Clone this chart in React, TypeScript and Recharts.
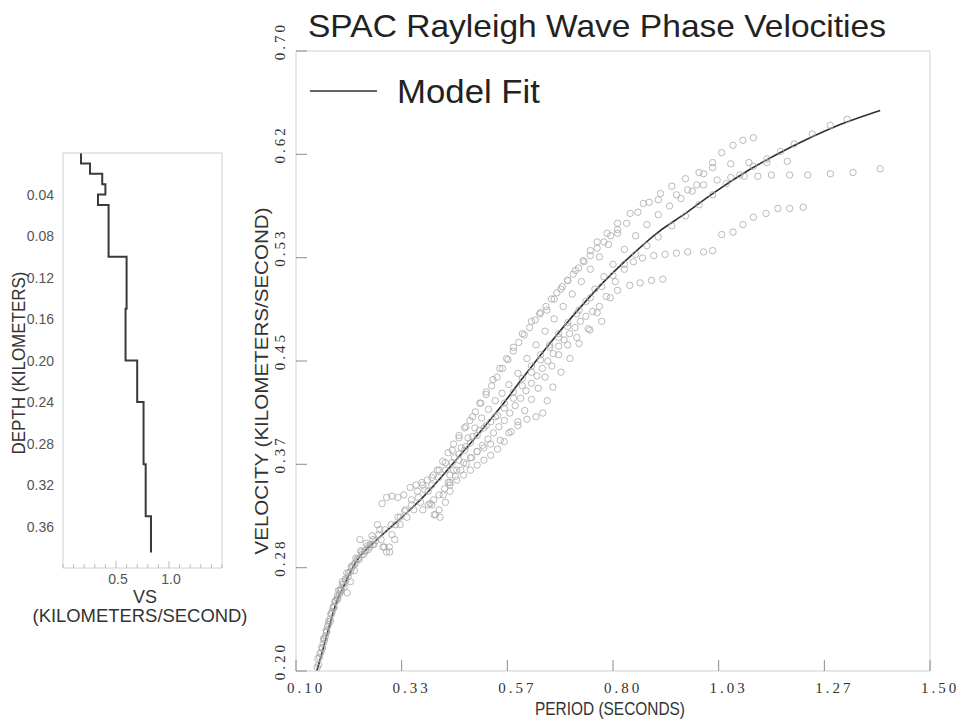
import { ComposedChart, Line, Scatter, XAxis, YAxis } from 'recharts';

// ---- main chart: period / velocity ----
const periodTicks = [0.1, 0.3333, 0.5667, 0.8, 1.0333, 1.2667, 1.5];
const periodTickLabels = ['0.10', '0.33', '0.57', '0.80', '1.03', '1.27', '1.50'];
const velocityTicks = [0.2, 0.2833, 0.3667, 0.45, 0.5333, 0.6167, 0.7];
const velocityTickLabels = ['0.20', '0.28', '0.37', '0.45', '0.53', '0.62', '0.70'];

const fitPeriod = [
  0.146, 0.16, 0.175, 0.19, 0.205, 0.22, 0.24, 0.27, 0.3, 0.34, 0.38, 0.42, 0.46, 0.5, 0.55,
  0.6, 0.66, 0.72, 0.78, 0.84, 0.9, 0.96, 1.02, 1.1, 1.19, 1.29, 1.39,
];
const fitVelocity = [
  0.2, 0.218, 0.238, 0.256, 0.268, 0.28, 0.292, 0.303, 0.313, 0.326, 0.34, 0.356, 0.373, 0.39,
  0.412, 0.436, 0.464, 0.49, 0.514, 0.535, 0.554, 0.569, 0.585, 0.604, 0.622, 0.639, 0.652,
];

type Pt = [number, number];

const trackA: Pt[] = [
  [0.15, 0.205], [0.158, 0.218], [0.165, 0.228], [0.172, 0.238], [0.18, 0.248], [0.188, 0.257],
  [0.196, 0.262], [0.205, 0.27], [0.215, 0.276], [0.225, 0.285], [0.235, 0.29], [0.245, 0.296],
  [0.258, 0.301], [0.27, 0.306], [0.283, 0.31], [0.296, 0.314], [0.31, 0.318], [0.325, 0.324],
  [0.34, 0.329], [0.355, 0.334], [0.37, 0.34], [0.385, 0.346], [0.4, 0.35], [0.415, 0.356],
  [0.43, 0.362], [0.445, 0.368], [0.46, 0.375], [0.475, 0.381], [0.49, 0.389], [0.505, 0.394],
  [0.52, 0.398], [0.54, 0.405], [0.56, 0.416], [0.58, 0.425], [0.6, 0.436], [0.62, 0.446],
  [0.64, 0.455], [0.66, 0.463], [0.68, 0.472], [0.7, 0.481], [0.725, 0.491], [0.75, 0.501],
  [0.775, 0.51], [0.8, 0.519], [0.825, 0.528], [0.85, 0.536], [0.875, 0.543], [0.9, 0.55],
  [0.93, 0.559], [0.96, 0.567], [0.99, 0.576], [1.02, 0.584], [1.05, 0.593], [1.08, 0.6],
  [1.11, 0.607], [1.14, 0.613], [1.17, 0.619], [1.2, 0.625], [1.24, 0.633], [1.28, 0.64],
  [1.317, 0.645],
];

const trackB: Pt[] = [
  [0.155, 0.215], [0.163, 0.225], [0.17, 0.236], [0.178, 0.246], [0.186, 0.256], [0.194, 0.265],
  [0.202, 0.272], [0.212, 0.279], [0.222, 0.284], [0.232, 0.291], [0.243, 0.297], [0.255, 0.303],
  [0.268, 0.309], [0.28, 0.318], [0.29, 0.335], [0.3, 0.34], [0.312, 0.341], [0.325, 0.34],
  [0.338, 0.342], [0.352, 0.348], [0.365, 0.35], [0.378, 0.352], [0.39, 0.354], [0.403, 0.358],
  [0.416, 0.362], [0.43, 0.368], [0.445, 0.378], [0.46, 0.388], [0.475, 0.397], [0.49, 0.405],
  [0.506, 0.416], [0.52, 0.425], [0.535, 0.435], [0.55, 0.444], [0.565, 0.452], [0.58, 0.461],
  [0.6, 0.472], [0.62, 0.482], [0.638, 0.488], [0.654, 0.491], [0.67, 0.5], [0.685, 0.508],
  [0.7, 0.515], [0.717, 0.523], [0.734, 0.531], [0.75, 0.539], [0.765, 0.546], [0.787, 0.553],
  [0.81, 0.561], [0.838, 0.569], [0.867, 0.577], [0.9, 0.58], [0.94, 0.584], [0.965, 0.588],
  [0.985, 0.592], [1.0, 0.601], [1.02, 0.61], [1.04, 0.618], [1.065, 0.624], [1.087, 0.628],
  [1.11, 0.63],
];

const trackC: Pt[] = [
  [0.16, 0.222], [0.168, 0.232], [0.176, 0.24], [0.184, 0.251], [0.192, 0.258], [0.2, 0.266],
  [0.21, 0.273], [0.22, 0.28], [0.23, 0.286], [0.24, 0.29], [0.252, 0.297], [0.264, 0.302],
  [0.276, 0.305], [0.288, 0.306], [0.295, 0.3], [0.3, 0.296], [0.306, 0.3], [0.312, 0.31],
  [0.32, 0.318], [0.33, 0.324], [0.342, 0.33], [0.355, 0.338], [0.368, 0.345], [0.38, 0.35],
  [0.392, 0.345], [0.4, 0.334], [0.408, 0.326], [0.416, 0.33], [0.425, 0.342], [0.436, 0.352],
  [0.448, 0.362], [0.46, 0.37], [0.472, 0.378], [0.485, 0.384], [0.5, 0.39], [0.515, 0.396],
  [0.53, 0.401], [0.545, 0.406], [0.56, 0.412], [0.58, 0.42], [0.6, 0.43], [0.62, 0.441],
  [0.64, 0.451], [0.66, 0.461], [0.68, 0.469], [0.7, 0.478], [0.72, 0.488], [0.74, 0.498],
  [0.76, 0.508], [0.78, 0.518], [0.8, 0.528], [0.825, 0.54], [0.85, 0.551], [0.875, 0.56],
  [0.9, 0.568], [0.925, 0.575], [0.95, 0.581], [0.975, 0.587], [1.0, 0.592], [1.03, 0.596],
  [1.06, 0.598], [1.09, 0.599], [1.12, 0.599], [1.15, 0.6], [1.19, 0.6], [1.23, 0.6],
  [1.28, 0.601], [1.33, 0.602], [1.39, 0.605],
];

const trackD: Pt[] = [
  [0.45, 0.372], [0.465, 0.38], [0.48, 0.388], [0.495, 0.396], [0.51, 0.404], [0.525, 0.411],
  [0.54, 0.418], [0.555, 0.424], [0.57, 0.431], [0.59, 0.44], [0.61, 0.452], [0.63, 0.463],
  [0.65, 0.474], [0.67, 0.484], [0.69, 0.494], [0.71, 0.504], [0.73, 0.514], [0.75, 0.524],
  [0.77, 0.534], [0.79, 0.544], [0.81, 0.553], [0.83, 0.561], [0.855, 0.57], [0.88, 0.578],
  [0.905, 0.585], [0.93, 0.591], [0.96, 0.597], [0.99, 0.602], [1.02, 0.606], [1.06, 0.609],
  [1.1, 0.61], [1.14, 0.61], [1.185, 0.611],
];

const trackE: Pt[] = [
  [0.44, 0.358], [0.455, 0.362], [0.47, 0.368], [0.485, 0.372], [0.5, 0.377], [0.515, 0.38],
  [0.53, 0.383], [0.551, 0.386], [0.57, 0.392], [0.59, 0.398], [0.61, 0.403], [0.63, 0.405],
  [0.645, 0.408], [0.655, 0.418], [0.667, 0.429], [0.685, 0.441], [0.705, 0.452], [0.725, 0.464],
  [0.745, 0.476], [0.765, 0.489], [0.785, 0.502], [0.805, 0.514], [0.825, 0.524], [0.845, 0.53],
  [0.865, 0.533], [0.89, 0.535], [0.915, 0.536], [0.94, 0.537], [0.965, 0.538], [1.0, 0.538],
  [1.02, 0.539], [1.04, 0.552], [1.065, 0.554], [1.087, 0.56], [1.11, 0.566], [1.138, 0.569],
  [1.164, 0.573], [1.19, 0.573], [1.22, 0.574],
];

const trackF: Pt[] = [
  [0.44, 0.35], [0.455, 0.354], [0.47, 0.358], [0.485, 0.362], [0.5, 0.366], [0.515, 0.37],
  [0.53, 0.374], [0.545, 0.379], [0.56, 0.385], [0.575, 0.393], [0.59, 0.401], [0.605, 0.41],
  [0.62, 0.419], [0.635, 0.428], [0.65, 0.437], [0.665, 0.446], [0.68, 0.455], [0.7, 0.463],
  [0.72, 0.469], [0.749, 0.475], [0.775, 0.482], [0.794, 0.501], [0.81, 0.507], [0.837, 0.511],
  [0.86, 0.513], [0.885, 0.515], [0.91, 0.516],
];

const trackG: Pt[] = [
  [0.148, 0.21], [0.153, 0.214], [0.161, 0.226], [0.167, 0.231], [0.175, 0.242], [0.183, 0.252],
  [0.191, 0.259], [0.199, 0.264], [0.207, 0.268], [0.213, 0.263], [0.22, 0.272], [0.229, 0.281],
  [0.241, 0.306], [0.25, 0.294], [0.26, 0.298], [0.272, 0.302], [0.285, 0.314], [0.292, 0.3],
  [0.307, 0.296], [0.318, 0.306], [0.33, 0.318], [0.345, 0.324], [0.36, 0.33], [0.375, 0.336],
  [0.396, 0.335], [0.405, 0.326], [0.418, 0.324], [0.43, 0.336], [0.44, 0.345],
];

const trackH: Pt[] = [
  [0.4, 0.356], [0.412, 0.362], [0.424, 0.369], [0.436, 0.376], [0.448, 0.383], [0.46, 0.39],
  [0.472, 0.396], [0.484, 0.402], [0.496, 0.409], [0.508, 0.416], [0.52, 0.423], [0.532, 0.43],
  [0.544, 0.437], [0.556, 0.444], [0.568, 0.451], [0.58, 0.458], [0.592, 0.465], [0.604, 0.471],
  [0.616, 0.477], [0.628, 0.483], [0.64, 0.489], [0.652, 0.494], [0.664, 0.5], [0.676, 0.505],
  [0.688, 0.51], [0.7, 0.515], [0.712, 0.52], [0.724, 0.525], [0.736, 0.53], [0.75, 0.535],
  [0.765, 0.541], [0.78, 0.546], [0.795, 0.551], [0.81, 0.556],
];

const trackI: Pt[] = [
  [0.38, 0.33], [0.392, 0.334], [0.404, 0.338], [0.416, 0.342], [0.428, 0.347], [0.44, 0.352],
  [0.452, 0.357], [0.464, 0.362], [0.476, 0.367], [0.488, 0.372], [0.5, 0.377], [0.512, 0.382],
  [0.524, 0.387], [0.536, 0.392], [0.548, 0.397], [0.56, 0.402], [0.572, 0.408], [0.584, 0.414],
  [0.596, 0.42], [0.608, 0.426], [0.62, 0.432], [0.632, 0.438], [0.644, 0.444], [0.656, 0.45],
  [0.668, 0.456], [0.68, 0.462], [0.692, 0.467], [0.704, 0.472], [0.716, 0.477], [0.728, 0.482],
  [0.74, 0.486], [0.755, 0.49], [0.77, 0.494],
];

const trackJ: Pt[] = [
  [0.147, 0.203], [0.152, 0.211], [0.157, 0.219], [0.162, 0.226], [0.167, 0.233], [0.172, 0.24],
  [0.177, 0.246], [0.182, 0.251], [0.187, 0.256], [0.192, 0.261], [0.197, 0.265], [0.203, 0.27],
  [0.209, 0.274], [0.216, 0.279], [0.223, 0.283], [0.23, 0.287], [0.238, 0.291], [0.246, 0.294],
  [0.254, 0.297], [0.262, 0.3], [0.27, 0.302],
];

const tracks = [trackA, trackB, trackC, trackD, trackE, trackF, trackG, trackH, trackI, trackJ];

// ---- side chart: shear velocity profile ----
const layerTop = [0, 0.01, 0.02, 0.03, 0.04, 0.05, 0.1, 0.15, 0.2, 0.24, 0.3, 0.35];
const layerVs = [0.17, 0.255, 0.37, 0.4, 0.33, 0.43, 0.6, 0.59, 0.7, 0.76, 0.78, 0.83];
const profileBottom = 0.385;
const depthTicks = [0.04, 0.08, 0.12, 0.16, 0.2, 0.24, 0.28, 0.32, 0.36];
const depthTickLabels = ['0.04', '0.08', '0.12', '0.16', '0.20', '0.24', '0.28', '0.32', '0.36'];
const vsTicks = [0, 0.1, 0.2, 0.3, 0.4, 0.5, 0.6, 0.7, 0.8, 0.9, 1.0, 1.1, 1.2, 1.3, 1.4, 1.5];
const vsLabeled = [0.5, 1.0];
const vsTickLabels = ['0.5', '1.0'];

const fitData = fitPeriod.map((period, i) => ({ period, vel: fitVelocity[i] }));
const profileData = layerVs.flatMap((vs, i) => [
  { vs, depth: layerTop[i] },
  { vs, depth: i + 1 < layerTop.length ? layerTop[i + 1] : profileBottom },
]);

const MAIN = { left: 296, right: 930, top: 51, bottom: 671 };
const SIDE = { left: 63, right: 222, top: 153, bottom: 568 };
const BOX = '#cfcfcf';
const TICKC = '#8c8c8c';
const SERIF = 'Liberation Serif, serif';
const SANS = 'Liberation Sans, Arial, sans-serif';

const VelLeftTick = ({ y, index }: any) => (
  <g>
    <line x1={MAIN.left} x2={MAIN.left + 11} y1={y} y2={y} stroke={TICKC} />
    <text
      transform={`translate(280 ${y - 10}) rotate(-90)`}
      textAnchor="middle"
      dominantBaseline="central"
      fontFamily={SERIF}
      fontSize={15}
      letterSpacing={3}
      fill="#333"
    >
      {velocityTickLabels[index]}
    </text>
  </g>
);

const VelRightTick = ({ y }: any) => (
  <line x1={MAIN.right - 11} x2={MAIN.right} y1={y} y2={y} stroke={TICKC} />
);

const PeriodBottomTick = ({ x, index }: any) => (
  <g>
    <line x1={x} x2={x} y1={MAIN.bottom - 11} y2={MAIN.bottom} stroke={TICKC} />
    <text
      x={x + 10}
      y={693}
      textAnchor="middle"
      fontFamily={SERIF}
      fontSize={15}
      letterSpacing={3}
      fill="#333"
    >
      {periodTickLabels[index]}
    </text>
  </g>
);

const PeriodTopTick = ({ x }: any) => (
  <line x1={x} x2={x} y1={MAIN.top} y2={MAIN.top + 11} stroke={TICKC} />
);

const DepthLeftTick = ({ y, index }: any) => (
  <text x={54} y={y + 5} textAnchor="end" fontFamily={SANS} fontSize={14} fill="#555">
    {depthTickLabels[index]}
  </text>
);

const DepthRightTick = ({ y }: any) => (
  <line x1={SIDE.right - 8} x2={SIDE.right} y1={y} y2={y} stroke="#bbb" />
);

const VsBottomTick = ({ x, payload }: any) => {
  const k = vsLabeled.indexOf(payload.value);
  return (
    <g>
      <line x1={x} x2={x} y1={SIDE.bottom - (k >= 0 ? 7 : 4)} y2={SIDE.bottom} stroke="#bbb" />
      {k >= 0 && (
        <text x={x + 2} y={584} textAnchor="middle" fontFamily={SANS} fontSize={14} fill="#555">
          {vsTickLabels[k]}
        </text>
      )}
    </g>
  );
};

const VsTopTick = ({ x }: any) => (
  <line x1={x} x2={x} y1={SIDE.top} y2={SIDE.top + 4} stroke="#bbb" />
);

const Ring = (props: any) => (
  <circle cx={props.cx} cy={props.cy} r={3.2} fill="none" stroke="#a8a8a8" strokeWidth={0.8} />
);

const MainChart = () => (
  <ComposedChart
    width={964}
    height={721}
    margin={{ top: 41, right: 24, bottom: 20, left: 256 }}
  >
    <XAxis
      dataKey="period"
      type="number"
      domain={[0.1, 1.5]}
      ticks={periodTicks}
      interval={0}
      height={30}
      axisLine={{ stroke: BOX }}
      tickLine={false}
      tick={PeriodBottomTick}
    />
    <XAxis
      xAxisId="top"
      orientation="top"
      dataKey="period"
      type="number"
      domain={[0.1, 1.5]}
      ticks={periodTicks}
      interval={0}
      height={10}
      axisLine={{ stroke: BOX }}
      tickLine={false}
      tick={PeriodTopTick}
    />
    <YAxis
      dataKey="vel"
      type="number"
      domain={[0.2, 0.7]}
      ticks={velocityTicks}
      interval={0}
      width={40}
      axisLine={{ stroke: BOX }}
      tickLine={false}
      tick={VelLeftTick}
    />
    <YAxis
      yAxisId="right"
      orientation="right"
      dataKey="vel"
      type="number"
      domain={[0.2, 0.7]}
      ticks={velocityTicks}
      interval={0}
      width={10}
      axisLine={{ stroke: BOX }}
      tickLine={false}
      tick={VelRightTick}
    />
    {tracks.map((track, i) => (
      <Scatter
        key={i}
        data={track.map(([period, vel]) => ({ period, vel }))}
        dataKey="vel"
        shape={Ring}
        isAnimationActive={false}
      />
    ))}
    <Line
      data={fitData}
      dataKey="vel"
      type="monotone"
      stroke="#2e2e2e"
      strokeWidth={1.6}
      dot={false}
      activeDot={false}
      isAnimationActive={false}
    />
  </ComposedChart>
);

const SideChart = () => (
  <ComposedChart
    width={250}
    height={640}
    margin={{ top: 148, right: 20, bottom: 52, left: 13 }}
  >
    <XAxis
      dataKey="vs"
      type="number"
      domain={[0, 1.5]}
      ticks={vsTicks}
      interval={0}
      height={20}
      axisLine={{ stroke: BOX }}
      tickLine={false}
      tick={VsBottomTick}
    />
    <XAxis
      xAxisId="top"
      orientation="top"
      dataKey="vs"
      type="number"
      domain={[0, 1.5]}
      ticks={vsTicks}
      interval={0}
      height={5}
      axisLine={{ stroke: BOX }}
      tickLine={false}
      tick={VsTopTick}
    />
    <YAxis
      dataKey="depth"
      type="number"
      domain={[0, 0.4]}
      reversed
      ticks={depthTicks}
      interval={0}
      width={50}
      axisLine={{ stroke: BOX }}
      tickLine={false}
      tick={DepthLeftTick}
    />
    <YAxis
      yAxisId="right"
      orientation="right"
      dataKey="depth"
      type="number"
      domain={[0, 0.4]}
      reversed
      ticks={depthTicks}
      interval={0}
      width={8}
      axisLine={{ stroke: BOX }}
      tickLine={false}
      tick={DepthRightTick}
    />
    <Line
      data={profileData}
      dataKey="depth"
      type="linear"
      stroke="#3a3a3a"
      strokeWidth={2}
      dot={false}
      activeDot={false}
      isAnimationActive={false}
    />
  </ComposedChart>
);

const Titles = () => (
  <svg width={964} height={721} style={{ position: 'absolute', left: 0, top: 0, pointerEvents: 'none' }}>
    <text x={308} y={37} fontFamily={SANS} fontSize={32} fill="#222" textLength={578} lengthAdjust="spacingAndGlyphs">
      SPAC Rayleigh Wave Phase Velocities
    </text>
    <line x1={310} x2={377} y1={91} y2={91} stroke="#333" strokeWidth={1.6} />
    <text x={397} y={103} fontFamily={SANS} fontSize={34} fill="#222" textLength={143} lengthAdjust="spacingAndGlyphs">
      Model Fit
    </text>
    <text x={610} y={715} textAnchor="middle" fontFamily={SANS} fontSize={18} fill="#333" textLength={150} lengthAdjust="spacingAndGlyphs">
      PERIOD (SECONDS)
    </text>
    <text
      transform="translate(268 381) rotate(-90)"
      textAnchor="middle"
      fontFamily={SANS}
      fontSize={18}
      fill="#333"
      textLength={347}
      lengthAdjust="spacingAndGlyphs"
    >
      VELOCITY (KILOMETERS/SECOND)
    </text>
    <text
      transform="translate(25 363) rotate(-90)"
      textAnchor="middle"
      fontFamily={SANS}
      fontSize={18}
      fill="#333"
      textLength={183}
      lengthAdjust="spacingAndGlyphs"
    >
      DEPTH (KILOMETERS)
    </text>
    <text x={145} y={603} textAnchor="middle" fontFamily={SANS} fontSize={18} fill="#333">
      VS
    </text>
    <text x={140} y={622} textAnchor="middle" fontFamily={SANS} fontSize={18} fill="#333" textLength={215} lengthAdjust="spacingAndGlyphs">
      (KILOMETERS/SECOND)
    </text>
  </svg>
);

const App = () => (
  <div style={{ position: 'absolute', left: 0, top: 0, width: 964, height: 721, background: '#fff' }}>
    <div style={{ position: 'absolute', left: 0, top: 0 }}>
      <MainChart />
    </div>
    <div style={{ position: 'absolute', left: 0, top: 0 }}>
      <SideChart />
    </div>
    <Titles />
  </div>
);

export default App;
